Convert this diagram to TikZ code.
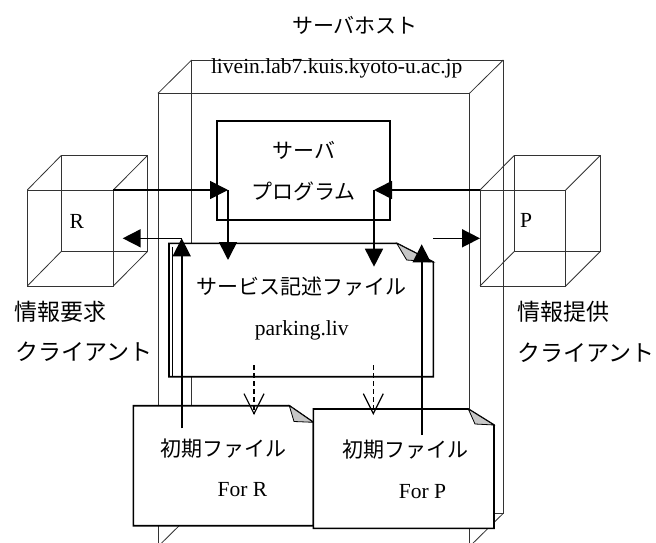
\documentclass[tikz,border=0pt]{standalone}
\usepackage{fontspec}
\setmainfont{Liberation Serif}
\newfontfamily\jp{Noto Sans CJK JP}
\usetikzlibrary{arrows.meta}
\begin{document}
\begin{tikzpicture}[x=1pt,y=-1pt,
  wire/.style={draw=black!80, line width=0.8pt},
  boxline/.style={draw=black, line width=1.6pt, fill=white, line join=miter},
  fold/.style={draw=black, line width=0.8pt, fill=black!22},
  arr/.style={draw=black, line width=1.6pt, -{Triangle[length=18pt,width=18pt]}},
  darr/.style={draw=black, line width=1.2pt, dash pattern=on 5pt off 3pt, -{Straight Barb[length=20pt,width=20pt,line width=1.2pt]}},
  lat/.style={inner sep=0pt, font=\fontsize{21.5}{22}\selectfont},
  jtx/.style={inner sep=0pt, font=\jp\fontsize{21}{22}\selectfont},
  jbig/.style={inner sep=0pt, font=\jp\fontsize{23}{24}\selectfont}]
\useasboundingbox (0,0) rectangle (656,543);
\clip (0,0) rectangle (656,543);
% server host cube (wireframe)
\draw[wire] (158,93.3) rectangle (469.5,546.6);
\draw[wire] (191.7,60) rectangle (503.3,513.3);
\draw[wire] (158,93.3) -- (191.7,60);
\draw[wire] (469.5,93.3) -- (503.3,60);
\draw[wire] (469.5,546.6) -- (503.3,513.3);
\draw[wire] (158,546.6) -- (191.7,513.3);
% R cube
\draw[wire] (27.3,190) rectangle (113.3,286);
\draw[wire] (61,155.7) rectangle (147.3,251.7);
\draw[wire] (27.3,190) -- (61,155.7);
\draw[wire] (113.3,190) -- (147.3,155.7);
\draw[wire] (27.3,286) -- (61,251.7);
\draw[wire] (113.3,286) -- (147.3,251.7);
% P cube
\draw[wire] (480,190) rectangle (565.7,286);
\draw[wire] (514,155.7) rectangle (600,251.7);
\draw[wire] (480,190) -- (514,155.7);
\draw[wire] (565.7,190) -- (600,155.7);
\draw[wire] (480,286) -- (514,251.7);
\draw[wire] (565.7,286) -- (600,251.7);
% server program box
\node[boxline, minimum width=173pt, minimum height=99pt, outer sep=0pt, inner sep=0pt] (prog) at (303.5,170.5) {};
% service description file
\draw[boxline] (169,243.3) -- (396.7,243.3) -- (433.3,262) -- (433.3,376.7) -- (169,376.7) -- cycle;
\draw[fold] (396.7,243.3) -- (406.7,260) -- (433.3,262) -- cycle;
\draw[wire, draw=black] (172.5,246.5) -- (172.5,376.7);
% initial files
\draw[boxline] (133.3,405.7) -- (289.3,405.7) -- (313.3,422.3) -- (313.3,525.7) -- (133.3,525.7) -- cycle;
\draw[fold] (289.3,405.7) -- (294,421.5) -- (313.3,422.3) -- cycle;
\draw[boxline] (313.3,409) -- (468.3,409) -- (494,425) -- (494,528.3) -- (313.3,528.3) -- cycle;
\draw[fold] (468.3,409) -- (475,424) -- (494,425) -- cycle;
% connector end points
\coordinate (Rc) at (113.3,190);
\coordinate (pL) at (228,190);
\coordinate (sL) at (228,260);
\coordinate (Pc) at (480,190);
\coordinate (pR) at (374,190);
\coordinate (sR) at (374,266.7);
\coordinate (fR) at (181.7,428.3);
\coordinate (cL) at (181.7,238.3);
\coordinate (Rin) at (122.7,238.3);
\coordinate (fP) at (421.7,435);
\coordinate (sT) at (421.7,244.3);
\coordinate (sO) at (433.3,238.3);
\coordinate (Pin) at (480,238.3);
\coordinate (d1a) at (254,365);
\coordinate (d1b) at (254,415);
\coordinate (d2a) at (373.3,365);
\coordinate (d2b) at (373.3,415);
% connectors
\draw[arr] (Rc) -- (pL);
\draw[arr] (pL) -- (sL);
\draw[arr] (Pc) -- (pR);
\draw[arr] (pR) -- (sR);
\draw[arr] (fR) -- (cL);
\draw[arr] (cL) -- (Rin);
\draw[arr] (fP) -- (sT);
\draw[arr] (sO) -- (Pin);
\draw[darr] (d1a) -- (d1b);
\draw[darr] (d2a) -- (d2b);
% texts
\node[jtx] (host) at (355,25) {サーバホスト};
\node[lat] (hname) at (336.7,68) {livein.lab7.kuis.kyoto-u.ac.jp};
\node[jtx] (p1) at (304,150) {サーバ};
\node[jtx] (p2) at (303.3,191.7) {プログラム};
\node[jtx] (s1) at (301.7,286.7) {サービス記述ファイル};
\node[lat] (s2) at (301.7,330) {parking.liv};
\node[jtx] (r1) at (223.3,448.3) {初期ファイル};
\node[lat] (r2) at (242.5,490) {For R};
\node[jtx] (q1) at (405,450) {初期ファイル};
\node[lat] (q2) at (422.5,492) {For P};
\node[lat] (R) at (76.7,221.7) {R};
\node[lat] (P) at (526,220) {P};
\node[jbig] (c1) at (60,311.7) {情報要求};
\node[jbig] (c2) at (84.2,351.7) {クライアント};
\node[jbig] (c3) at (563.3,311.7) {情報提供};
\node[jbig] (c4) at (585.8,353) {クライアント};
\end{tikzpicture}
\end{document}
